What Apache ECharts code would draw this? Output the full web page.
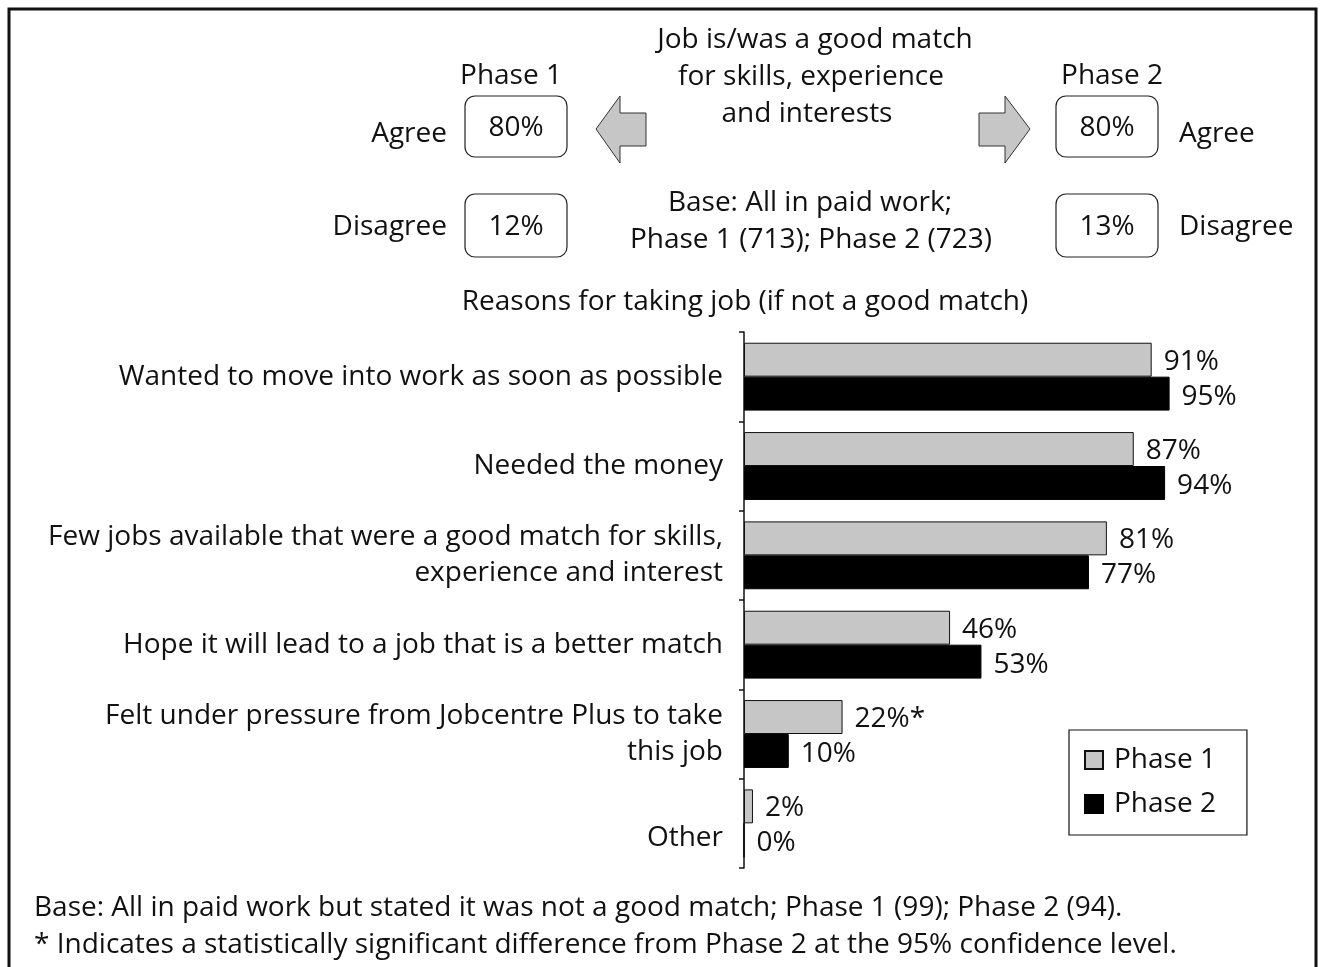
<!DOCTYPE html>
<html>
<head>
<meta charset="utf-8">
<script src="https://cdn.jsdelivr.net/npm/echarts@6/dist/echarts.min.js"></script>
<style>
  html, body { margin: 0; padding: 0; background: #fff; }
  #chart { width: 1321px; height: 967px; }
</style>
</head>
<body>
<div id="chart"></div>
<script>
// Reasons for taking a job that was not a good match, by phase
const categories = [
  'Wanted to move into work as soon as possible',
  'Needed the money',
  'Few jobs available that were a good match for skills,\nexperience and interest',
  'Hope it will lead to a job that is a better match',
  'Felt under pressure from Jobcentre Plus to take\nthis job',
  'Other'
];
const phase1 = [91, 87, 81, 46, 22, 2];
const phase2 = [95, 94, 77, 53, 10, 0];
const significant = [false, false, false, false, true, false];
const seriesNames = ['Phase 1', 'Phase 2'];

// Summary: job is/was a good match
const agreeShares = [80, 80];
const disagreeShares = [12, 13];

const FONT = 'Open Sans';
const FS = 28;
const font = (size, weight) => (weight || 'normal') + ' ' + (size || FS) + 'px "' + FONT + '"';

const chart = echarts.init(document.getElementById('chart'), null, { renderer: 'canvas' });

function text(str, x, y, align, opts) {
  return {
    type: 'text',
    silent: true,
    style: Object.assign({
      text: str, x: x, y: y + 2,
      fill: '#111',
      font: font(),
      textAlign: align || 'center',
      textVerticalAlign: 'middle'
    }, opts || {})
  };
}
function box(x, y, w, h) {
  return {
    type: 'rect', silent: true,
    shape: { x: x, y: y, width: w, height: h, r: 10 },
    style: { fill: '#fff', stroke: '#222', lineWidth: 1.2 }
  };
}
function arrow(pts) {
  return {
    type: 'polygon', silent: true,
    shape: { points: pts },
    style: { fill: '#c6c6c6', stroke: '#333', lineWidth: 1 }
  };
}

const graphics = [
  // outer frame (top, left and right sides)
  { type: 'polyline', silent: true,
    shape: { points: [[9, 967], [9, 9], [1316, 9], [1316, 967]] },
    style: { stroke: '#111', lineWidth: 3, fill: null } },

  text(seriesNames[0], 511, 74),
  text(seriesNames[1], 1112, 74),
  box(465, 96, 102, 61), text(agreeShares[0] + '%', 516, 126),
  box(465, 194, 102, 63), text(disagreeShares[0] + '%', 516, 225),
  box(1056, 96, 102, 61), text(agreeShares[1] + '%', 1107, 126),
  box(1056, 194, 102, 63), text(disagreeShares[1] + '%', 1107, 225),
  text('Agree', 447, 132, 'right'),
  text('Disagree', 447, 225, 'right'),
  text('Agree', 1179, 132, 'left'),
  text('Disagree', 1179, 225, 'left'),

  arrow([[596, 129], [620, 96], [620, 113], [646, 113], [646, 146], [620, 146], [620, 163]]),
  arrow([[1030, 129], [1005, 96], [1005, 113], [979, 113], [979, 146], [1005, 146], [1005, 163]]),

  text('Job is/was a good match', 815, 38),
  text('for skills, experience', 811, 75),
  text('and interests', 807, 112),
  text('Base: All in paid work;', 810, 201),
  text('Phase 1 (713); Phase 2 (723)', 811, 238),

  text('Reasons for taking job (if not a good match)', 745, 300, 'center', { font: font(FS, 500) }),

  text('Base: All in paid work but stated it was not a good match; Phase 1 (99); Phase 2 (94).', 34, 906, 'left', { font: font(FS) }),
  text('* Indicates a statistically significant difference from Phase 2 at the 95% confidence level.', 34, 943, 'left', { font: font(FS) })
];

const labelStyle = {
  show: true,
  position: 'right',
  distance: 12,
  color: '#111',
  fontFamily: FONT,
  fontSize: FS
};

chart.setOption({
  animation: false,
  backgroundColor: '#fff',
  textStyle: { fontFamily: FONT },
  grid: { left: 744, right: 129, top: 332, bottom: 99, containLabel: false },
  xAxis: {
    type: 'value', min: 0, max: 100,
    show: false
  },
  yAxis: {
    type: 'category',
    data: categories,
    inverse: true,
    axisLine: { show: true, lineStyle: { color: '#111', width: 1.5 } },
    axisTick: { show: true, inside: false, length: 5, lineStyle: { color: '#111', width: 1.5 } },
    axisLabel: {
      margin: 21,
      color: '#111',
      fontFamily: FONT,
      fontSize: FS,
      lineHeight: 36,
      align: 'right',
      // the last, single-word label sits a little below its band centre
      formatter: (v, i) => (i === categories.length - 1 ? '{low|' + v + '}' : v),
      rich: { low: { padding: [30, 0, 0, 0], fontFamily: FONT, fontSize: FS, color: '#111' } }
    },
    splitLine: { show: false }
  },
  legend: {
    orient: 'vertical',
    left: 1069, top: 730,
    padding: [16, 31, 17, 15],
    itemGap: 16,
    itemWidth: 18, itemHeight: 18,
    icon: 'rect',
    borderColor: '#111', borderWidth: 1.2,
    textStyle: { color: '#111', fontFamily: FONT, fontSize: FS, padding: [0, 0, 0, 6] },
    data: seriesNames
  },
  series: [
    {
      name: seriesNames[0], type: 'bar',
      data: phase1,
      barGap: '0%', barCategoryGap: '24%',
      itemStyle: { color: '#c6c6c6', borderColor: '#111', borderWidth: 1 },
      label: Object.assign({}, labelStyle, {
        offset: [0, 2],
        formatter: p => p.value + '%' + (significant[p.dataIndex] ? '*' : '')
      })
    },
    {
      name: seriesNames[1], type: 'bar',
      data: phase2,
      barGap: '0%', barCategoryGap: '24%',
      itemStyle: { color: '#000', borderColor: '#000', borderWidth: 1 },
      label: Object.assign({}, labelStyle, { offset: [0, 3], formatter: '{c}%' })
    }
  ],
  graphic: graphics
});
</script>
</body>
</html>
